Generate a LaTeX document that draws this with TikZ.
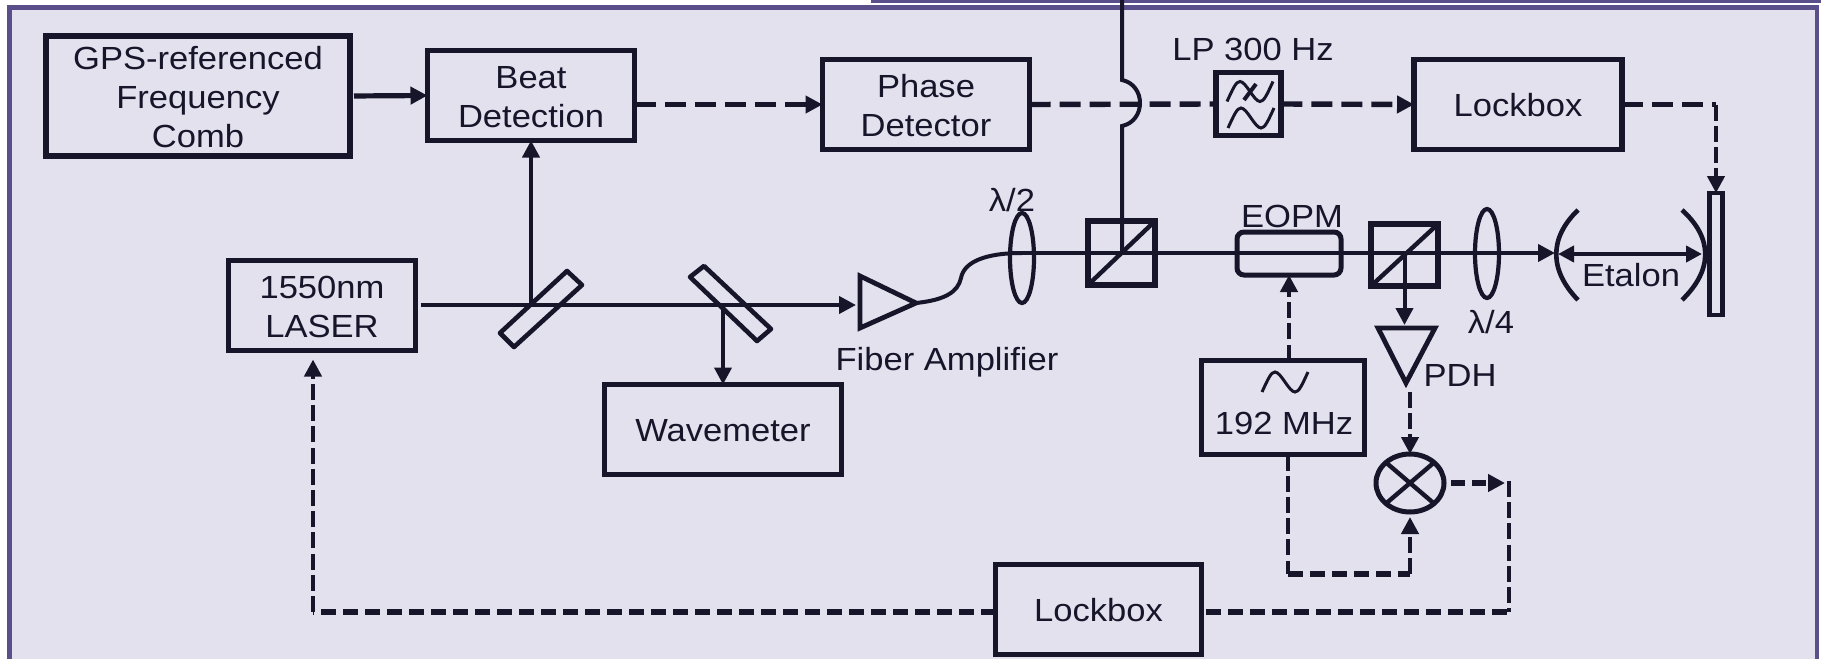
\documentclass[tikz,border=0pt]{standalone}
\usepackage{fontspec}
\setmainfont[FakeStretch=1.08]{Liberation Sans}
\usetikzlibrary{arrows.meta,shapes.geometric,calc}
\definecolor{ink}{HTML}{17152A}
\definecolor{panel}{HTML}{E3E1EE}
\definecolor{rim}{HTML}{5A4F8A}
\newcommand{\boxtext}[1]{\raisebox{0pt}[\height][\dimexpr\depth-4.6pt\relax]{\begin{tabular}{@{}c@{}}#1\end{tabular}}}
\tikzset{
  every node/.style={text=ink,font=\fontsize{16}{19.5}\selectfont,align=center,outer sep=0pt,inner sep=0pt},
  bx/.style={draw=ink,line width=2.8pt,rectangle},
  thinbx/.style={draw=ink,line width=2.3pt,rectangle},
  lensel/.style={draw=ink,line width=2.1pt,ellipse},
  beam/.style={draw=ink,line width=2pt},
  sigtop/.style={draw=ink,line width=2.7pt,dash pattern=on 10.5pt off 4.5pt},
  sighor/.style={draw=ink,line width=2.7pt,dash pattern=on 7.5pt off 3.5pt},
  sigver/.style={draw=ink,line width=2.1pt,dash pattern=on 8pt off 2.6pt},
  tip/.style={-{Triangle[length=8.5pt,width=8.5pt]}},
  glyph/.style={draw=ink,line width=1.5pt},
  wave/.pic={\draw[glyph,pic actions] (-23,10) .. controls (-17,-3) and (-14,-10) .. (-10,-10) .. controls (-4,-10) and (4,10) .. (10,10) .. controls (14,10) and (17,3) .. (23,-10);}
}
\begin{document}
\begin{tikzpicture}[x=0.5pt,y=-0.5pt]
\useasboundingbox (0,0) rectangle (1821,659);
% panel
\fill[white] (0,0) rectangle (1821,659);
\fill[panel] (9.5,7.5) rectangle (1817,659);
\draw[rim,line width=2.4pt] (9.5,659) -- (9.5,7.5) -- (1817,7.5) -- (1817,659);
\fill[rim] (871,0) rectangle (1821,2.5);
% boxes
\node[bx,minimum width=152pt,minimum height=60pt] (gps) at (198,96) {\boxtext{GPS-referenced\\Frequency\\Comb}};
\node[bx,minimum width=103.5pt,minimum height=45pt] (beat) at (531,95.5) {\boxtext{Beat\\Detection}};
\node[bx,minimum width=103.5pt,minimum height=45pt] (phase) at (926,104.5) {\boxtext{Phase\\Detector}};
\node[bx,minimum width=104pt,minimum height=45pt] (lockA) at (1518,104.5) {\boxtext{Lockbox}};
\node[bx,minimum width=32.75pt,minimum height=31.5pt] (filter) at (1248.5,104) {};
\node[bx,minimum width=93.5pt,minimum height=45pt] (laser) at (322,305.5) {\boxtext{1550nm\\LASER}};
\node[bx,minimum width=118.5pt,minimum height=45pt] (wavem) at (723,429.5) {\boxtext{Wavemeter}};
\node[bx,minimum width=81.5pt,minimum height=47pt] (osc) at (1283,407.5) {};
\node (osctext) at (1284,423) {192 MHz};
\node[bx,minimum width=103pt,minimum height=45pt] (lockB) at (1098.5,609.5) {\boxtext{Lockbox}};
\node[bx,line width=2.5pt,rounded corners=3.5pt,minimum width=52pt,minimum height=21.5pt] (eopm) at (1289,253.5) {};
\node[thinbx,line width=2.6pt,minimum width=33.5pt,minimum height=32pt] (pbsA) at (1121.5,253) {};
\node[thinbx,line width=2.6pt,minimum width=33.5pt,minimum height=31pt] (pbsB) at (1404.5,255) {};
\node[thinbx,minimum width=6.5pt,minimum height=61pt] (mirror) at (1716,254) {};
\node[lensel,minimum width=12pt,minimum height=45pt] (hwp) at (1022,258) {};
\node[lensel,minimum width=12pt,minimum height=44.5pt] (qwp) at (1487,253.5) {};
\node[lensel,line width=2.5pt,minimum width=34pt,minimum height=29pt] (mixer) at (1410,483) {};
% labels
\node (lp) at (1253,49) {LP 300 Hz};
\node (eopmtext) at (1292,216) {EOPM};
\node (hwptext) at (1012,200) {λ/2};
\node (qwptext) at (1491,322) {λ/4};
\node (amptext) at (947,362) {Fiber Amplifier};
\node (pdh) at (1460,375) {PDH};
\node (etalon) at (1631,275) {Etalon};
% glyphs
\pic at (1285,382) {wave};
\pic[line width=2pt] at (1251,118) {wave};
\pic[line width=2pt] at (1250,91.5) {wave};
\draw[glyph,line width=2pt] (1256,84) -- (1244,100);
% coordinates
\coordinate (top) at (1122,0);
\coordinate (hopA) at (1122,80);
\coordinate (hopB) at (1122,126);
\coordinate (bsA) at (530,305);
\coordinate (bsB) at (721,305);
\coordinate (amptip) at (916,303);
\coordinate (ampin) at (856,305);
\coordinate (etL) at (1555,253);
\coordinate (etLi) at (1558,254);
\coordinate (etRi) at (1702,254);
\coordinate (pdhtip) at (1406,383);
\coordinate (pdhtop) at (1406,325);
\coordinate (pdhout) at (1408,392);
\coordinate (mxout) at (1509,481);
\coordinate (mxend) at (1505,483);
\coordinate (oscbot) at (1288,574);
\coordinate (lascorner) at (313,612);
% beam splitters, amplifier, detector, mirrors
\draw[beam,line width=2.3pt,line join=round] (567,271) -- (582,285) -- (514,347) -- (500,333) -- cycle;
\draw[beam,line width=2.3pt,line join=round] (704,266) -- (771,329) -- (757,341) -- (690,277) -- cycle;
\draw[beam,line width=2.4pt,line join=miter] (860,276) -- (amptip) -- (860,328) -- cycle;
\draw[beam,line width=2.4pt,line join=miter] (1378,328) -- (1435,328) -- (pdhtip) -- cycle;
\draw[beam,line width=2.2pt] (pbsA.south west) -- (pbsA.north east);
\draw[beam,line width=2.2pt] (pbsB.south west) -- (pbsB.north east);
\draw[beam,line width=2.2pt] (mixer.north west) -- (mixer.south east);
\draw[beam,line width=2.2pt] (mixer.north east) -- (mixer.south west);
\draw[beam,line width=2.3pt] (1578,210) .. controls (1549,238) and (1549,270) .. (1578,300);
\draw[beam,line width=2.3pt] (1682,210) .. controls (1713,238) and (1713,270) .. (1682,300);
% solid connectors
\draw[beam,line width=2.6pt,tip,shorten <=2pt] (gps.east) -- (beat.west);
\draw[beam,tip] (beat.south |- bsA) -- (beat.south);
\draw[beam,tip,shorten <=2.5pt] (laser.east |- bsA) -- (ampin);
\draw[beam,tip] (wavem.north |- bsB) -- (wavem.north);
\draw[beam] (amptip) .. controls (945,300) and (958,292) .. (961,278) .. controls (964,262) and (985,253) .. (hwp.center |- etL);
\draw[beam,tip] (hwp.center |- etL) -- (etL);
\draw[beam,{Triangle[length=8pt,width=8pt]}-{Triangle[length=8pt,width=8pt]}] (etLi) -- (etRi);
\draw[beam] (top) -- (hopA) .. controls (1146,85) and (1146,121) .. (hopB) -- (hopB |- pbsA.center);
\draw[beam,tip] (pbsB.center) -- (pbsB.center |- pdhtop);
% dashed connectors
\draw[sigtop,tip] (beat.east |- phase.west) -- (phase.west);
\draw[sigtop] (phase.east) -- (filter.west);
\draw[sigtop,tip] (filter.east) -- (lockA.west);
\draw[sigtop] (lockA.east) -- (lockA.east -| mirror.north);
\draw[sigver,tip] (lockA.east -| mirror.north) -- (mirror.north);
\draw[sigver,tip] (osc.north -| eopm.south) -- (eopm.south);
\draw[sigver,tip] (mixer.north |- pdhout) -- (mixer.north);
\draw[sigver] (osc.south -| oscbot) -- (oscbot);
\draw[sighor] (oscbot) -- (oscbot -| mixer.south);
\draw[sigver,tip,shorten >=2.5pt] (oscbot -| mixer.south) -- (mixer.south);
\draw[sigtop,tip,dash pattern=on 7pt off 3.5pt,shorten <=3.5pt] (mixer.east) -- (mxend);
\draw[sighor,shorten <=2pt] (lockB.east |- lascorner) -- (lascorner -| mxout);
\draw[sigver] (mxout) -- (lascorner -| mxout);
\draw[sighor] (lockB.west |- lascorner) -- (lascorner);
\draw[sigver,tip,shorten >=4.5pt] (lascorner) -- (laser.south -| lascorner);
\end{tikzpicture}
\end{document}
